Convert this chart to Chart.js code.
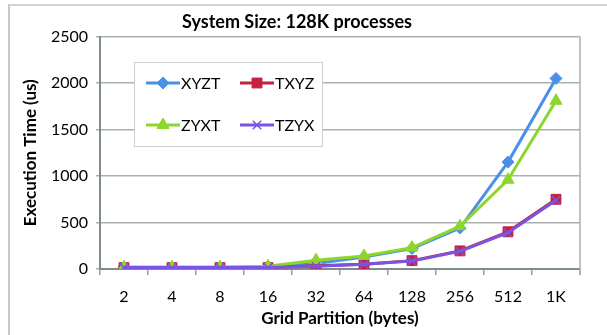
<!DOCTYPE html>
<html lang="en">
<head>
    <meta charset="UTF-8">
    <title>System Size: 128K processes</title>
    <script src="https://cdn.jsdelivr.net/npm/chart.js"></script>
    <style>
        html, body { margin: 0; padding: 0; background: #fff; }
        #wrap { position: relative; width: 607px; height: 335px; }
        #frame { position: absolute; left: 8px; top: 4px; right: 0; bottom: 0;
                 border-top: 2px solid #d4d4d4; border-left: 2px solid #c8c8c8; }
    </style>
</head>
<body>
    <div id="wrap">
        <div id="frame"></div>
        <canvas id="chart" width="607" height="335"></canvas>
    </div>

    <script>
        // chart data
        const categories = ['2', '4', '8', '16', '32', '64', '128', '256', '512', '1K'];
        const xyzt = [20, 20, 20, 25, 60, 130, 220, 440, 1150, 2050];
        const txyz = [15, 15, 15, 15, 35, 50, 90, 195, 400, 750];
        const zyxt = [20, 20, 20, 30, 95, 140, 230, 460, 960, 1810];
        const tzyx = [15, 15, 15, 15, 30, 50, 85, 190, 390, 740];
        const yTicks = [0, 500, 1000, 1500, 2000, 2500];

        const FONT = 'Lato, "Open Sans", sans-serif';

        // order: lower number is drawn on top (purple over red, green over blue)
        function series(label, data, color, style, radius, order) {
            return {
                label: label,
                data: data,
                order: order,
                borderColor: color,
                backgroundColor: color,
                borderWidth: 3,
                pointStyle: style,
                pointRadius: radius,
                pointBorderColor: color,
                pointBackgroundColor: color,
                pointBorderWidth: style === 'crossRot' ? 1.5 : 1,
                tension: 0
            };
        }

        // legend box drawn inside the plot, like the original
        const boxLegend = {
            id: 'boxLegend',
            afterDraw(chart) {
                const ctx = chart.ctx;
                const a = chart.chartArea;
                ctx.save();
                // right border of the plot
                ctx.strokeStyle = '#a9b1b1';
                ctx.lineWidth = 1.5;
                ctx.beginPath();
                ctx.moveTo(a.right, a.top);
                ctx.lineTo(a.right, a.bottom + 6);
                ctx.stroke();

                const bx = 134, by = 62, bw = 188, bh = 84;
                ctx.fillStyle = '#fff';
                ctx.fillRect(bx, by, bw, bh);
                ctx.strokeStyle = '#cfcfcf';
                ctx.lineWidth = 1;
                ctx.strokeRect(bx + 0.5, by + 0.5, bw, bh);

                chart.data.datasets.forEach((ds, i) => {
                    const col = i % 2, row = Math.floor(i / 2);
                    const x0 = bx + 12 + col * 94;
                    const y0 = by + 21 + row * 42;
                    ctx.strokeStyle = ds.borderColor;
                    ctx.lineWidth = 3;
                    ctx.beginPath();
                    ctx.moveTo(x0, y0);
                    ctx.lineTo(x0 + 34, y0);
                    ctx.stroke();
                    ctx.fillStyle = ds.backgroundColor;
                    ctx.strokeStyle = ds.borderColor;
                    ctx.lineWidth = ds.pointBorderWidth;
                    Chart.helpers.drawPoint(ctx, {
                        pointStyle: ds.pointStyle,
                        radius: ds.pointRadius,
                        borderWidth: ds.pointBorderWidth,
                        rotation: 0
                    }, x0 + 17, y0);
                    ctx.fillStyle = '#000';
                    ctx.font = '16px ' + FONT;
                    ctx.textBaseline = 'middle';
                    ctx.textAlign = 'left';
                    ctx.fillText(ds.label, x0 + 35, y0 + 1);
                });
                ctx.restore();
            }
        };

        const ctx = document.getElementById('chart').getContext('2d');
        new Chart(ctx, {
            type: 'line',
            data: {
                labels: categories,
                datasets: [
                    series('XYZT', xyzt, '#4a90e8', 'rectRot', 6, 3),
                    series('TXYZ', txyz, '#c3223f', 'rect', 7, 2),
                    series('ZYXT', zyxt, '#8ed62c', 'triangle', 7, 1),
                    series('TZYX', tzyx, '#7a55e2', 'crossRot', 6, 0)
                ]
            },
            options: {
                responsive: false,
                animation: false,
                layout: { padding: { left: 14, right: 27, top: 6, bottom: 6 } },
                plugins: {
                    legend: { display: false },
                    tooltip: { enabled: false },
                    title: {
                        display: true,
                        text: 'System Size: 128K processes',
                        color: '#000',
                        font: { family: FONT, size: 18, weight: 'bold' },
                        padding: { top: 5, bottom: 4 }
                    }
                },
                scales: {
                    x: {
                        offset: true,
                        grid: {
                            offset: true,
                            drawOnChartArea: false,
                            drawTicks: true,
                            tickLength: 6,
                            color: '#93a0a0',
                            lineWidth: 1.5
                        },
                        border: { color: '#7f8c8c', width: 2 },
                        ticks: {
                            color: '#000',
                            padding: 12,
                            maxRotation: 0,
                            autoSkip: false,
                            font: { family: FONT, size: 16 }
                        },
                        title: {
                            display: true,
                            text: 'Grid Partition (bytes)',
                            color: '#000',
                            font: { family: FONT, size: 17, weight: 'bold' },
                            padding: { top: 2, bottom: 0 }
                        },
                        afterFit(scale) { scale.height = 60; }
                    },
                    y: {
                        min: 0,
                        max: 2500,
                        afterBuildTicks(scale) {
                            scale.ticks = yTicks.map(v => ({ value: v }));
                        },
                        grid: {
                            color: '#a9b1b1',
                            lineWidth: 1.5,
                            tickLength: 4
                        },
                        border: { color: '#7f8c8c', width: 2 },
                        ticks: {
                            color: '#000',
                            padding: 8,
                            font: { family: FONT, size: 16 },
                            callback: v => String(v)
                        },
                        title: {
                            display: true,
                            text: 'Execution Time (us)',
                            color: '#000',
                            font: { family: FONT, size: 17, weight: 'bold' },
                            padding: { top: 6, bottom: 4 }
                        },
                        afterFit(scale) { scale.width = 86; }
                    }
                }
            },
            plugins: [boxLegend]
        });
    </script>
</body>
</html>
